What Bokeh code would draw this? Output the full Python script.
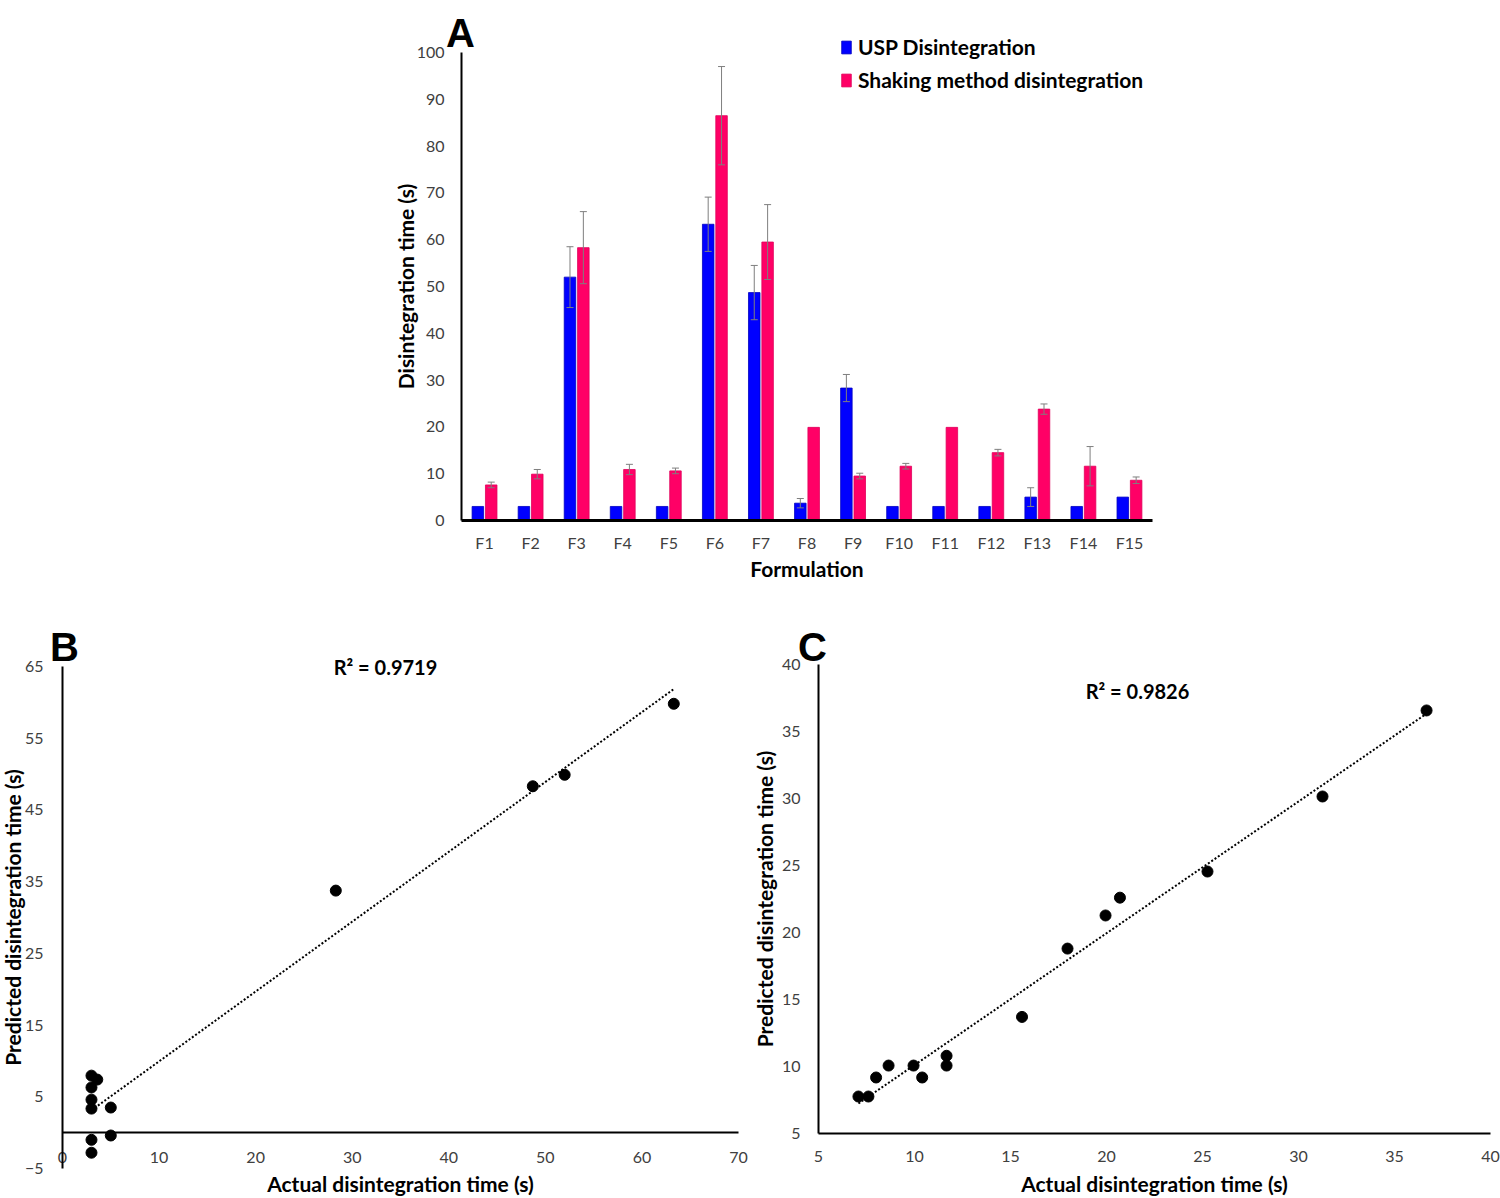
import numpy as np
from bokeh.plotting import figure
from bokeh.models import (ColumnDataSource, Whisker, Label, Legend, LegendItem,
                          FixedTicker, Range1d, TeeHead, Spacer)
from bokeh.layouts import column, row
from bokeh.embed import file_html
from bokeh.resources import INLINE

# ---------------- data ----------------
formulations = ["F1", "F2", "F3", "F4", "F5", "F6", "F7", "F8", "F9", "F10",
                "F11", "F12", "F13", "F14", "F15"]
usp = [3, 3, 52, 3, 3, 63.3, 48.7, 3.7, 28.3, 3, 3, 3, 5, 3, 5]
usp_err = [0, 0, 6.5, 0, 0, 5.8, 5.8, 1, 2.9, 0, 0, 0, 2, 0, 0]
shake = [7.6, 9.9, 58.3, 10.9, 10.6, 86.5, 59.5, 19.9, 9.5, 11.6, 19.9, 14.5, 23.8, 11.6, 8.6]
shake_err = [0.6, 1, 7.7, 1.1, 0.6, 10.5, 8, 0, 0.6, 0.6, 0, 0.7, 1.1, 4.2, 0.7]

b_actual = [3, 3.6, 3, 3, 3, 5, 3, 5, 3, 28.3, 48.7, 52, 63.3]
b_pred = [7.95, 7.4, 6.3, 4.6, 3.35, 3.5, -1, -0.4, -2.8, 33.75, 48.3, 49.9, 59.8]
b_r2 = "R\u00b2 = 0.9719"

c_actual = [7.08, 7.6, 8.0, 8.65, 9.95, 10.4, 11.67, 11.67, 15.6, 17.97, 19.95, 20.7, 25.26, 31.25, 36.67]
c_pred = [7.76, 7.76, 9.18, 10.07, 10.07, 9.18, 10.07, 10.8, 13.7, 18.8, 21.27, 22.6, 24.55, 30.15, 36.57]
c_r2 = "R\u00b2 = 0.9826"

a_ylim = (0, 100)
a_yticks = list(range(0, 101, 10))
b_xlim = (0, 70)
b_ylim = (-5, 65)
b_xticks = list(range(0, 71, 10))
b_yticks = [-5, 5, 15, 25, 35, 45, 55, 65]
c_xlim = (5, 40)
c_ylim = (5, 40)
c_xticks = list(range(5, 41, 5))
c_yticks = list(range(5, 41, 5))

BLUE = "#0000FF"
PINK = "#FF0066"
FONT = "Lato"
TICK_COLOR = "#404040"
TICK_SIZE = "16px"
LABEL_SIZE = "21px"

# category positions (1..N) for the formulations, labelled with their names
a_pos = [i + 1 for i in range(len(formulations))]
a_xlim = (0.5, len(formulations) + 0.5)


def frame_range(lim, px_lo, px_hi, px_min, px_max):
    """Range whose limits put lim[0] at px_lo and lim[1] at px_hi on a frame px_min..px_max."""
    lo, hi = lim
    scale = (px_hi - px_lo) / (hi - lo)
    return Range1d(lo - (px_lo - px_min) / scale, hi + (px_max - px_hi) / scale)


def style_axes(p):
    p.outline_line_color = None
    p.xgrid.grid_line_color = None
    p.ygrid.grid_line_color = None
    for ax in (p.xaxis, p.yaxis):
        ax.major_tick_line_color = None
        ax.minor_tick_line_color = None
        ax.axis_line_color = "black"
        ax.axis_line_width = 2
        ax.major_label_text_font = FONT
        ax.major_label_text_font_size = TICK_SIZE
        ax.major_label_text_color = TICK_COLOR
        ax.axis_label_text_font = FONT
        ax.axis_label_text_font_style = "bold"
        ax.axis_label_text_font_size = LABEL_SIZE
        ax.axis_label_text_color = "black"


def panel_letter(p, text, x, y):
    p.add_layout(Label(x=x, y=y, x_units="screen", y_units="screen", text=text,
                       text_font="Liberation Sans", text_font_style="bold",
                       text_font_size="40px", text_align="center",
                       text_baseline="alphabetic", text_color="black"))


def r2_label(p, text, x, y):
    p.add_layout(Label(x=x, y=y, x_units="screen", y_units="screen", text=text,
                       text_font=FONT, text_font_style="bold", text_font_size="20px",
                       text_align="center", text_baseline="middle", text_color="black"))


# ---------------- panel A ----------------
# canvas: page x 380..1500, y 0..600 (whole canvas is the frame)
pA = figure(x_range=frame_range(a_xlim, 461 - 380, 1152 - 380, 0, 1120),
            y_range=frame_range(a_ylim, -520, -52, -600, 0),
            width=1120, height=600, output_backend="svg", toolbar_location=None,
            min_border_left=0, min_border_right=0, min_border_top=0, min_border_bottom=0)
style_axes(pA)
pA.xaxis.axis_line_width = 3
pA.xaxis.ticker = FixedTicker(ticks=a_pos)
pA.xaxis.major_label_overrides = {p: f for p, f in zip(a_pos, formulations)}
pA.yaxis.ticker = FixedTicker(ticks=a_yticks)
pA.xaxis.fixed_location = a_ylim[0]
pA.yaxis.fixed_location = a_xlim[0]
pA.xaxis.bounds = a_xlim
pA.yaxis.bounds = a_ylim
pA.yaxis.major_label_standoff = 11
pA.yaxis.axis_label_standoff = -4
pA.xaxis.major_label_standoff = 6
pA.xaxis.axis_label_standoff = 1
pA.xaxis.axis_label = "Formulation"
pA.yaxis.axis_label = "Disintegration time (s)"

OFF = 0.145
srcA = ColumnDataSource(dict(xu=[p - OFF for p in a_pos], xs=[p + OFF for p in a_pos],
                             usp=usp, shake=shake))
r1 = pA.vbar(x="xu", top="usp", width=0.25, source=srcA,
             fill_color=BLUE, line_color="#0000C0", line_width=0.8)
r2 = pA.vbar(x="xs", top="shake", width=0.25, source=srcA,
             fill_color=PINK, line_color="#E0005A", line_width=0.8)


def whisk(values, errs, offset):
    xs = [p + offset for p, e in zip(a_pos, errs) if e > 0]
    up = [v + e for v, e in zip(values, errs) if e > 0]
    lo = [v - e for v, e in zip(values, errs) if e > 0]
    s = ColumnDataSource(dict(x=xs, up=up, lo=lo))
    w = Whisker(base="x", upper="up", lower="lo", source=s,
                line_color="#7F7F7F", line_width=1, level="annotation",
                upper_head=TeeHead(size=7, line_color="#7F7F7F", line_width=1),
                lower_head=TeeHead(size=7, line_color="#7F7F7F", line_width=1))
    pA.add_layout(w)


whisk(usp, usp_err, -OFF)
whisk(shake, shake_err, OFF)

legend = Legend(items=[LegendItem(label="USP Disintegration", renderers=[r1]),
                       LegendItem(label="Shaking method disintegration", renderers=[r2])],
                location=(840 - 380, 600 - 92), border_line_color=None, background_fill_alpha=0,
                padding=0, margin=0, spacing=8, glyph_width=12, glyph_height=16,
                label_standoff=6, label_height=24, label_text_font=FONT,
                label_text_font_style="bold", label_text_font_size="21px",
                label_text_color="black")
pA.add_layout(legend)
panel_letter(pA, "A", 460 - 380, 600 - 32)

# ---------------- panel B ----------------
# canvas: page x 0..750, y 600..1198 (whole canvas is the frame)
pB = figure(x_range=frame_range(b_xlim, 62, 738, 0, 750),
            y_range=frame_range(b_ylim, -1168, -666, -1198, -600),
            width=750, height=598, output_backend="svg", toolbar_location=None,
            min_border_left=0, min_border_right=0, min_border_top=0, min_border_bottom=0)
style_axes(pB)
pB.xaxis.ticker = FixedTicker(ticks=b_xticks)
pB.yaxis.ticker = FixedTicker(ticks=b_yticks)
pB.xaxis.fixed_location = 0
pB.yaxis.fixed_location = b_xlim[0]
pB.xaxis.bounds = b_xlim
pB.yaxis.bounds = b_ylim
pB.xaxis.major_label_standoff = 13
pB.xaxis.axis_label_standoff = 5
pB.yaxis.major_label_standoff = 13
pB.yaxis.axis_label_standoff = -3
pB.xaxis.axis_label = "Actual disintegration time (s)"
pB.yaxis.axis_label = "Predicted disintegration time (s)"

kb = np.polyfit(b_actual, b_pred, 1)
bx = [min(b_actual), max(b_actual)]
pB.line(bx, [kb[0] * v + kb[1] for v in bx], line_color="black", line_width=2, line_dash="2 2")
pB.scatter(b_actual, b_pred, size=11, color="black")
r2_label(pB, b_r2, 385, 532)
panel_letter(pB, "B", 64, 552)

# ---------------- panel C ----------------
# canvas: page x 750..1500, y 600..1198 (whole canvas is the frame)
pC = figure(x_range=frame_range(c_xlim, 818 - 750, 1490 - 750, 0, 750),
            y_range=frame_range(c_ylim, -1133, -664, -1198, -600),
            width=750, height=598, output_backend="svg", toolbar_location=None,
            min_border_left=0, min_border_right=0, min_border_top=0, min_border_bottom=0)
style_axes(pC)
pC.xaxis.ticker = FixedTicker(ticks=c_xticks)
pC.yaxis.ticker = FixedTicker(ticks=c_yticks)
pC.xaxis.fixed_location = c_ylim[0]
pC.yaxis.fixed_location = c_xlim[0]
pC.xaxis.bounds = c_xlim
pC.yaxis.bounds = c_ylim
pC.xaxis.major_label_standoff = 11
pC.xaxis.axis_label_standoff = 6
pC.yaxis.major_label_standoff = 12
pC.yaxis.axis_label_standoff = 2
pC.xaxis.axis_label = "Actual disintegration time (s)"
pC.yaxis.axis_label = "Predicted disintegration time (s)"

kc = np.polyfit(c_actual, c_pred, 1)
cx = [min(c_actual), max(c_actual)]
pC.line(cx, [kc[0] * v + kc[1] for v in cx], line_color="black", line_width=2, line_dash="2 2")
pC.scatter(c_actual, c_pred, size=11, color="black")
r2_label(pC, c_r2, 1137 - 750, 1198 - 690)
panel_letter(pC, "C", 812 - 750, 552)

layout = column(row(Spacer(width=380, height=600), pA), row(pB, pC))
open("out.html", "w").write(file_html(layout, INLINE))
